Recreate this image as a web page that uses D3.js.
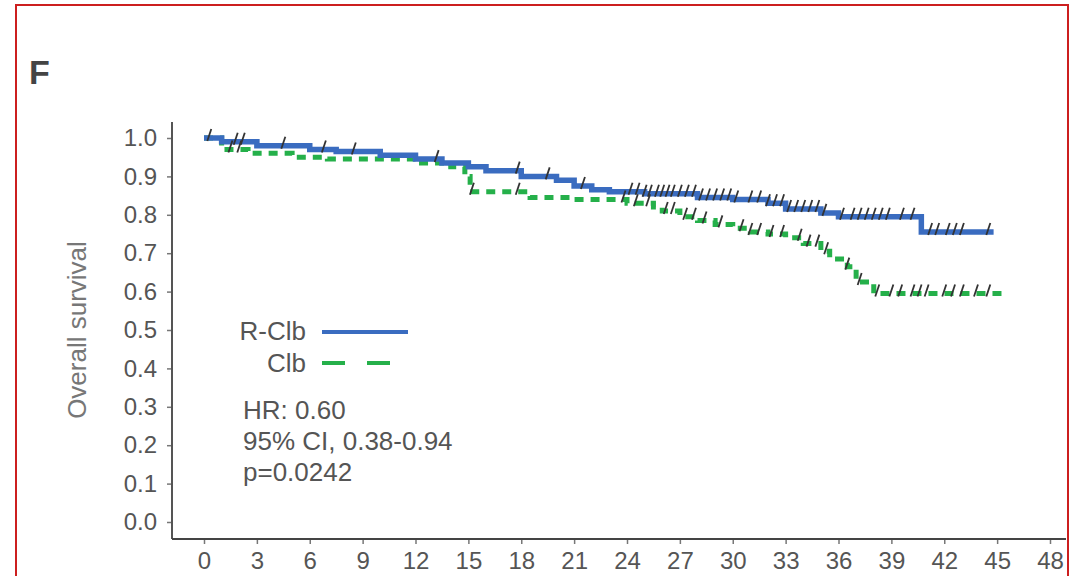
<!DOCTYPE html>
<html>
  <head>
    <style>
      body { margin: 0; background: #fff; }
      svg { display: block; font-family: "Liberation Sans", Arial, sans-serif; }
    </style>
  </head>
  <body>
    <svg class="chart" width="1073" height="576"></svg>

    <script src="https://d3js.org/d3.v7.min.js"></script>
    <script>
      // months / survival, step after
      var rclbTime = [0, 1, 3, 6, 7.5, 10, 12, 13.5, 15, 16, 18, 20, 21, 22, 23, 25, 28, 30, 32, 33, 35, 36, 40.7, 44.8];
      var rclbSurv = [1.0, 0.99, 0.98, 0.97, 0.965, 0.955, 0.945, 0.935, 0.925, 0.915, 0.9, 0.89, 0.875, 0.865, 0.86, 0.855, 0.845, 0.84, 0.83, 0.815, 0.805, 0.795, 0.755, 0.755];
      var clbTime = [0, 1, 2.5, 5, 7, 12, 14, 14.8, 15.1, 18.5, 21, 24, 25.5, 26, 27, 28, 29, 30, 31, 32, 33, 34, 35, 35.5, 36.5, 37, 38, 45.3];
      var clbSurv = [1.0, 0.97, 0.96, 0.95, 0.945, 0.935, 0.925, 0.9, 0.86, 0.845, 0.84, 0.83, 0.82, 0.81, 0.795, 0.785, 0.775, 0.765, 0.755, 0.75, 0.74, 0.725, 0.705, 0.685, 0.665, 0.625, 0.595, 0.595];

      // censored observations (months)
      var rclbCensor = [0.3, 1.8, 2.2, 4.5, 6.8, 8.5, 13.2, 17.8, 19.5, 21.5, 24.2, 24.6, 25, 25.3, 25.7, 26, 26.3, 26.6, 27, 27.4, 27.8, 28.2, 28.6, 29, 29.4, 29.8, 30.2, 31, 31.5, 32, 32.4, 32.8, 33.2, 33.6, 34, 34.4, 34.8, 35.2, 36.2, 36.8, 37.2, 37.6, 38, 38.4, 38.8, 39.6, 40.2, 41.2, 41.6, 42.2, 42.6, 43, 44.5];
      var clbCensor = [1.5, 2.0, 15.2, 17.8, 23.8, 24.5, 25.2, 26.2, 26.6, 27.3, 27.8, 28.4, 29.3, 30.5, 31, 31.5, 32.2, 32.8, 33.8, 34.3, 34.8, 35.3, 36.5, 37.2, 38.2, 39, 39.5, 40.2, 40.6, 41, 42, 42.5, 43, 43.8, 44.5];

      var xTicks = d3.range(0, 49, 3);
      var yTicks = d3.range(0, 11).map(function (d) { return d / 10; });
      var stats = ["HR: 0.60", "95% CI, 0.38-0.94", "p=0.0242"];

      var blue = "#3a6cc0", green = "#25b04a", grey = "#555";

      var svg = d3.select(".chart");

      svg.append("rect")
        .attr("x", 16).attr("y", 5)
        .attr("width", 1052).attr("height", 600)
        .attr("fill", "none").attr("stroke", "#cc1f1f").attr("stroke-width", 2);

      svg.append("text")
        .attr("x", 29).attr("y", 84)
        .attr("font-size", 34).attr("font-weight", "bold")
        .attr("fill", "#444").text("F");

      var x = d3.scaleLinear().domain([0, 48]).range([204, 1050]);
      var y = d3.scaleLinear().domain([0, 1]).range([522, 138]);

      var axisX = 172, axisY = 539;

      // axes
      var gy = svg.append("g")
        .attr("transform", "translate(" + axisX + ",0)")
        .call(d3.axisLeft(y).tickValues(yTicks).tickSize(5).tickPadding(10)
          .tickFormat(d3.format(".1f")));
      var gx = svg.append("g")
        .attr("transform", "translate(0," + axisY + ")")
        .call(d3.axisBottom(x).tickValues(xTicks).tickSize(5).tickPadding(8));

      [gx, gy].forEach(function (g) {
        g.select(".domain").remove();
        g.selectAll(".tick line").attr("stroke", "#777").attr("stroke-width", 1.5);
        g.selectAll(".tick text").attr("fill", grey)
          .attr("font-family", "Liberation Sans, Arial, sans-serif");
      });
      gy.selectAll(".tick text").attr("font-size", 24);
      gx.selectAll(".tick text").attr("font-size", 24);

      svg.append("line")
        .attr("x1", axisX).attr("x2", axisX).attr("y1", 122).attr("y2", axisY)
        .attr("stroke", "#555").attr("stroke-width", 2);
      svg.append("line")
        .attr("x1", axisX).attr("x2", 1066).attr("y1", axisY).attr("y2", axisY)
        .attr("stroke", "#444").attr("stroke-width", 2);

      svg.append("text")
        .attr("transform", "translate(86,330) rotate(-90)")
        .attr("text-anchor", "middle")
        .attr("font-size", 26).attr("fill", "#777")
        .text("Overall survival");

      // curves
      var line = d3.line()
        .x(function (d) { return x(d[0]); })
        .y(function (d) { return y(d[1]); })
        .curve(d3.curveStepAfter);

      var clbData = d3.zip(clbTime, clbSurv);
      var rclbData = d3.zip(rclbTime, rclbSurv);

      svg.append("path").datum(clbData)
        .attr("d", line).attr("fill", "none")
        .attr("stroke", green).attr("stroke-width", 5)
        .attr("stroke-dasharray", "9,7");

      svg.append("path").datum(rclbData)
        .attr("d", line).attr("fill", "none")
        .attr("stroke", blue).attr("stroke-width", 5.5);

      function survAt(times, surv, t) {
        var i = d3.bisectRight(times, t) - 1;
        return surv[Math.max(0, i)];
      }

      function censorMarks(times, surv, marks) {
        svg.append("g").selectAll("path")
          .data(marks)
          .enter()
          .append("path")
          .attr("d", function (t) {
            var cx = x(t), cy = y(survAt(times, surv, t));
            return "M" + (cx - 2) + "," + (cy + 3) + "L" + (cx + 2) + "," + (cy - 9);
          })
          .attr("stroke", "#333").attr("stroke-width", 1.8).attr("fill", "none");
      }
      censorMarks(rclbTime, rclbSurv, rclbCensor);
      censorMarks(clbTime, clbSurv, clbCensor);

      // legend
      var legend = svg.append("g");
      legend.append("text").attr("x", 306).attr("y", 340)
        .attr("text-anchor", "end").attr("font-size", 26).attr("fill", grey).text("R-Clb");
      legend.append("line").attr("x1", 322).attr("x2", 408).attr("y1", 332).attr("y2", 332)
        .attr("stroke", blue).attr("stroke-width", 4);
      legend.append("text").attr("x", 306).attr("y", 372)
        .attr("text-anchor", "end").attr("font-size", 26).attr("fill", grey).text("Clb");
      legend.append("line").attr("x1", 322).attr("x2", 390).attr("y1", 363).attr("y2", 363)
        .attr("stroke", green).attr("stroke-width", 4).attr("stroke-dasharray", "23,22");

      svg.append("g").selectAll("text")
        .data(stats)
        .enter()
        .append("text")
        .attr("x", 243)
        .attr("y", function (d, i) { return 419 + i * 31; })
        .attr("font-size", 26).attr("fill", grey)
        .text(function (d) { return d; });
    </script>
  </body>
</html>
